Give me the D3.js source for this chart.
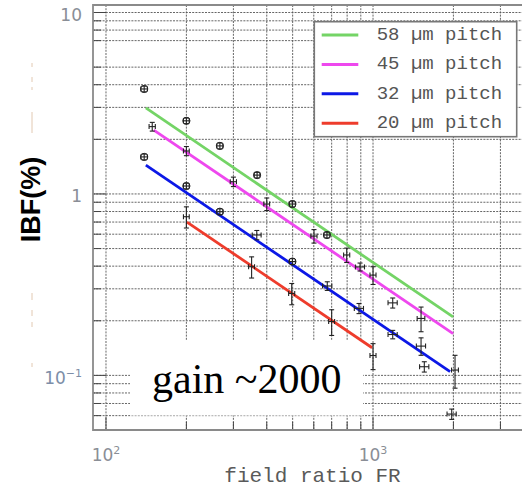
<!DOCTYPE html>
<html><head><meta charset="utf-8">
<script src="https://cdn.jsdelivr.net/npm/d3@7"></script>
<style>html,body{margin:0;padding:0;background:#fff}</style>
</head><body><svg id="c" width="522" height="488"></svg>
<script>
// ---------- data ----------
const seriesNames = ["58 \u00b5m pitch", "45 \u00b5m pitch", "32 \u00b5m pitch", "20 \u00b5m pitch"];
const seriesColors = ["#74d466", "#ee48ee", "#0c18e6", "#ee3c2c"];
// fitted power-law lines: [FR, IBF] end points
const fit58 = [[141, 2.98], [1994, 0.21]];
const fit45 = [[151, 2.25], [1994, 0.17]];
const fit32 = [[141, 1.44], [1943, 0.105]];
const fit20 = [[201, 0.70], [992, 0.142]];
// measurements: [FR, IBF(%), FR error, IBF error]
const pts58 = [[139, 3.79, 4, 0.14], [200, 2.53, 5, 0.09], [267, 1.84, 7, 0.07], [368, 1.27, 9, 0.045],
               [499, 0.88, 13, 0.033], [672, 0.594, 17, 0.022], [894, 0.396, 35, 0.02], [1185, 0.251, 47, 0.016]];
const pts45 = [[149, 2.35, 4, 0.13], [200, 1.725, 5, 0.10], [300, 1.168, 8, 0.07], [400, 0.88, 10, 0.07],
               [601, 0.586, 16, 0.05], [797, 0.461, 21, 0.042], [1000, 0.357, 26, 0.04], [1513, 0.206, 50, 0.032],
               [2028, 0.107, 60, 0.022]];
const pts32 = [[139, 1.60, 4, 0.06], [200, 1.106, 5, 0.04], [267, 0.798, 7, 0.03], [367, 0.594, 14, 0.035],
               [499, 0.424, 13, 0.016], [674, 0.311, 27, 0.017], [886, 0.234, 35, 0.015], [1185, 0.168, 47, 0.009],
               [1513, 0.145, 60, 0.016], [1556, 0.1116, 62, 0.0073], [1971, 0.0612, 78, 0.004]];
const pts20 = [[200, 0.749, 5, 0.10], [351, 0.397, 9, 0.053], [496, 0.283, 13, 0.038], [700, 0.198, 18, 0.032],
               [1000, 0.1286, 26, 0.021]];
const xGridVals = [100, 200, 300, 400, 500, 600, 700, 800, 900, 1000, 2000, 3000];
const yGridVals = [10, 9, 8, 7, 5, 4, 3, 2, 1, 0.9, 0.8, 0.7, 0.6, 0.5, 0.4, 0.3, 0.2, 0.1, 0.09, 0.08, 0.07, 0.06];
const xTickVals = [100, 1000], xTickBase = ["10", "10"], xTickSup = ["2", "3"];
const yTickVals = [10, 1, 0.1], yTickBase = ["10", "1", "10"], yTickSup = ["", "", "\u22121"];
const xTitle = "field ratio FR", yTitle = "IBF(%)", note = "gain ~2000";

// ---------- layout ----------
const L = 93, T = 5, B = 430, R = 522;
const svg = d3.select("#c");
const x = d3.scaleLog().domain([89.4, 4000]).range([L, 533.8]);
const y = d3.scaleLog().domain([0.05, 11]).range([B, T]);

svg.append("defs").append("clipPath").attr("id", "pc")
  .append("rect").attr("x", L).attr("y", T).attr("width", R - L).attr("height", B - T);

const plot = svg.append("g").attr("clip-path", "url(#pc)");

// grid
plot.append("g").selectAll("line").data(yGridVals).join("line")
  .attr("x1", L).attr("x2", R).attr("y1", d => y(d)).attr("y2", d => y(d))
  .attr("stroke", "#555").attr("stroke-width", 0.9).attr("stroke-dasharray", "2,1.2");
plot.append("g").selectAll("line").data(xGridVals).join("line")
  .attr("y1", T).attr("y2", B).attr("x1", d => x(d)).attr("x2", d => x(d))
  .attr("stroke", "#555").attr("stroke-width", 0.9).attr("stroke-dasharray", "2,1.2");

// frame ticks
const majorY = [10, 1, 0.1], majorX = [100, 1000];
plot.append("g").selectAll("line").data(yGridVals).join("line")
  .attr("x1", L).attr("x2", d => L + (majorY.includes(d) ? 13 : 8))
  .attr("y1", d => y(d)).attr("y2", d => y(d)).attr("stroke", "#444").attr("stroke-width", 1);
plot.append("g").selectAll("line").data(xGridVals).join("line")
  .attr("y1", B).attr("y2", d => B - (majorX.includes(d) ? 13 : 8))
  .attr("x1", d => x(d)).attr("x2", d => x(d)).attr("stroke", "#444").attr("stroke-width", 1);

// white box behind the gain note
plot.append("rect").attr("x", 130).attr("y", 340).attr("width", 233).attr("height", 75.5).attr("fill", "#fff");

// frame
svg.append("path").attr("d", `M${R},${T}H${L}V${B}H${R}`).attr("fill", "none")
  .attr("stroke", "#8a8a8a").attr("stroke-width", 1.8);

// fit lines
const fits = [fit58, fit45, fit32, fit20];
const line = d3.line().x(d => x(d[0])).y(d => y(d[1]));
plot.append("g").selectAll("path").data(fits).join("path")
  .attr("d", line).attr("fill", "none").attr("stroke", (d, i) => seriesColors[i]).attr("stroke-width", 2.8);

// points with error bars
const allPts = [pts58, pts45, pts32, pts20].flat();
const pg = plot.append("g").attr("stroke", "#222").attr("stroke-width", 1.1).attr("fill", "none");
allPts.forEach(p => {
  const cx = x(p[0]), cy = y(p[1]);
  const x0 = x(p[0] - p[2]), x1 = x(p[0] + p[2]);
  const y0 = y(p[1] - p[3]), y1 = y(p[1] + p[3]);
  const g = pg.append("g");
  g.append("line").attr("x1", x0).attr("x2", x1).attr("y1", cy).attr("y2", cy);
  g.append("line").attr("x1", cx).attr("x2", cx).attr("y1", y0).attr("y2", y1);
  g.append("line").attr("x1", cx - 2.5).attr("x2", cx + 2.5).attr("y1", y0).attr("y2", y0);
  g.append("line").attr("x1", cx - 2.5).attr("x2", cx + 2.5).attr("y1", y1).attr("y2", y1);
  g.append("line").attr("x1", x0).attr("x2", x0).attr("y1", cy - 2.5).attr("y2", cy + 2.5);
  g.append("line").attr("x1", x1).attr("x2", x1).attr("y1", cy - 2.5).attr("y2", cy + 2.5);
  if (p[3] / p[1] < 0.045) {
    g.append("circle").attr("cx", cx).attr("cy", cy).attr("r", 3.6).attr("stroke-width", 1);
  }
});

// legend
const lg = svg.append("g");
lg.append("rect").attr("x", 314.3).attr("y", 21.7).attr("width", 202.4).attr("height", 115)
  .attr("fill", "#fff").attr("stroke", "#777").attr("stroke-width", 1.6);
seriesNames.forEach((n, i) => {
  const yy = 35 + i * 29.4;
  lg.append("line").attr("x1", 321.7).attr("x2", 358.3).attr("y1", yy).attr("y2", yy)
    .attr("stroke", seriesColors[i]).attr("stroke-width", 3);
  lg.append("text").attr("x", 376.7).attr("y", yy + 5).text(n)
    .attr("font-family", "'Liberation Mono', 'Courier New', monospace").attr("font-size", 19).attr("fill", "#555");
});

// tick labels
const tf = "'DejaVu Sans', sans-serif";
yTickVals.forEach((v, i) => {
  const t = svg.append("text").attr("x", 82).attr("y", y(v) + 8.5).attr("text-anchor", "end")
    .attr("font-family", tf).attr("font-size", 17).attr("fill", i === 2 ? "#7d8ea8" : "#8a8e96");
  t.append("tspan").text(yTickBase[i]);
  if (yTickSup[i]) t.append("tspan").attr("dy", -7).attr("font-size", 11).text(yTickSup[i]);
});
xTickVals.forEach((v, i) => {
  const t = svg.append("text").attr("x", x(v)).attr("y", 461).attr("text-anchor", "middle")
    .attr("font-family", tf).attr("font-size", 17).attr("fill", "#8a8e96");
  t.append("tspan").text(xTickBase[i]);
  t.append("tspan").attr("dy", -7).attr("font-size", 11).text(xTickSup[i]);
});

// titles
svg.append("text").attr("x", 312.5).attr("y", 482).attr("text-anchor", "middle").text(xTitle)
  .attr("font-family", "'Liberation Mono', 'Courier New', monospace").attr("font-size", 21).attr("fill", "#5a5a5a");
svg.append("text").attr("transform", "translate(39.5,199.5) rotate(-90)").attr("text-anchor", "middle")
  .text(yTitle).attr("font-family", "'Liberation Sans', Arial, sans-serif").attr("font-weight", "bold")
  .attr("font-size", 27).attr("fill", "#000");
svg.append("text").attr("x", 152).attr("y", 393).text(note)
  .attr("font-family", "'Liberation Serif', 'Times New Roman', serif").attr("font-size", 42).attr("fill", "#000");

// faint scan artefacts beside the y title
const art = [[63, 67], [77, 82], [87, 90], [112, 133], [293, 300], [310, 316], [322, 327], [363, 367]];
svg.append("g").selectAll("line").data(art).join("line")
  .attr("x1", 32).attr("x2", 32).attr("y1", d => d[0]).attr("y2", d => d[1])
  .attr("stroke", "#e2c9b2").attr("stroke-width", 1);
</script></body></html>
